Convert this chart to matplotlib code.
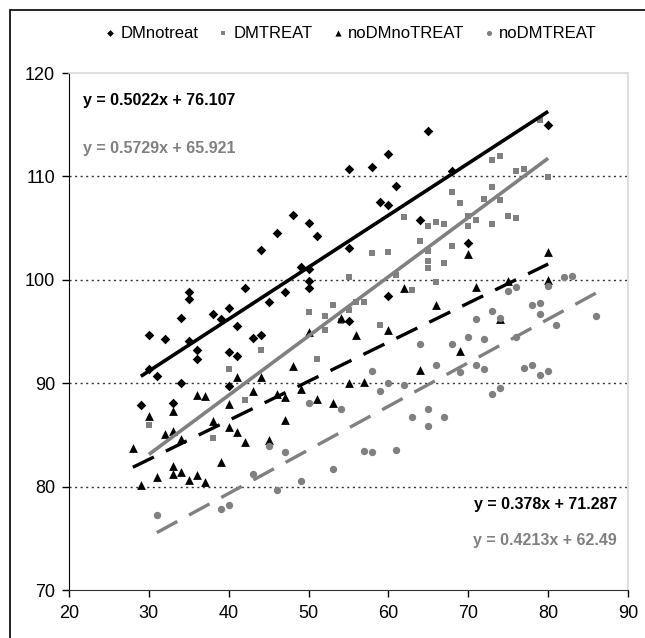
import matplotlib
matplotlib.use("Agg")
import matplotlib.pyplot as plt
import numpy as np
from matplotlib.patches import Rectangle

plt.rcParams['font.family'] = ['Liberation Sans', 'DejaVu Sans']

# ---- data ----
dmnotreat_x = [29, 30, 30, 31, 32, 33, 34, 34, 35, 35, 35, 36, 36, 38, 39, 40, 40, 40, 41, 41,
               42, 43, 44, 44, 45, 46, 47, 48, 49, 50, 50, 50, 50, 51, 55, 55, 55, 58, 59, 60,
               60, 60, 61, 64, 65, 68, 70, 80]
dmnotreat_y = [87.9, 94.7, 91.4, 90.7, 94.3, 88.1, 96.3, 90.0, 98.8, 98.1, 94.1, 93.2, 92.3, 96.7,
               96.2, 97.3, 93.0, 89.7, 95.5, 92.6, 99.2, 94.4, 94.7, 102.9, 97.9, 104.5, 98.8, 106.3,
               101.2, 105.5, 101.0, 99.9, 99.2, 104.2, 110.7, 103.1, 96.0, 110.9, 107.5, 112.2,
               107.2, 98.4, 109.1, 105.8, 114.4, 110.5, 103.6, 115.0]

dmtreat_x = [30, 38, 40, 42, 44, 50, 51, 52, 52, 53, 54, 55, 55, 56, 57, 58, 59, 60, 61, 62,
             63, 64, 65, 65, 65, 65, 66, 66, 67, 67, 68, 68, 69, 70, 70, 71, 72, 73, 73, 73,
             74, 74, 75, 76, 76, 77, 79, 80]
dmtreat_y = [86.0, 84.7, 91.4, 88.4, 93.2, 96.9, 92.3, 96.5, 95.1, 97.6, 96.0, 100.3, 97.1, 97.9,
             97.9, 102.6, 95.6, 102.7, 100.5, 106.1, 99.0, 103.8, 105.2, 102.8, 101.8, 101.1,
             105.6, 99.8, 105.4, 101.6, 108.5, 103.3, 107.4, 106.2, 105.2, 105.8, 107.8, 111.6,
             109.0, 105.4, 112.0, 107.7, 106.2, 110.5, 106.0, 110.7, 115.5, 109.9]

nodmnotreat_x = [28, 29, 30, 31, 32, 33, 33, 33, 33, 34, 34, 35, 36, 36, 37, 37, 38, 39, 40, 40,
                 41, 41, 42, 43, 44, 45, 46, 47, 47, 48, 49, 50, 51, 53, 54, 55, 56, 57, 60, 62,
                 64, 66, 69, 70, 71, 74, 75, 80, 80]
nodmnotreat_y = [83.7, 80.2, 86.8, 80.9, 85.1, 87.3, 85.4, 82.0, 81.2, 84.6, 81.4, 80.6, 88.9,
                 81.1, 88.8, 80.4, 86.3, 82.4, 88.0, 85.8, 90.6, 85.3, 84.3, 89.2, 90.6, 84.5,
                 89.0, 88.7, 86.4, 91.7, 89.4, 95.0, 88.5, 88.1, 96.3, 90.0, 94.7, 90.1, 95.1,
                 99.2, 91.3, 97.6, 93.1, 102.5, 99.3, 96.2, 99.9, 102.7, 100.0]

nodmtreat_x = [31, 39, 40, 43, 45, 46, 47, 49, 50, 53, 54, 57, 58, 58, 59, 60, 61, 62, 63, 64,
               65, 65, 66, 67, 68, 69, 70, 71, 71, 72, 72, 73, 73, 74, 74, 75, 76, 76, 77, 78,
               78, 79, 79, 79, 80, 80, 81, 82, 83, 86]
nodmtreat_y = [77.3, 77.8, 78.2, 81.2, 83.9, 79.7, 83.3, 80.5, 88.1, 81.7, 87.5, 83.4, 83.3, 91.2,
               89.2, 90.0, 83.5, 89.8, 86.7, 93.8, 87.5, 85.9, 91.8, 86.7, 93.8, 91.1, 94.5, 96.2,
               91.8, 94.3, 91.4, 97.0, 89.0, 96.3, 89.5, 98.9, 99.3, 94.5, 91.5, 97.6, 91.8, 97.8,
               96.7, 90.8, 99.4, 91.2, 95.6, 100.3, 100.4, 96.5]

# trend lines: (slope, intercept, x_start, x_end)
trend_dmnotreat = (0.5022, 76.107, 29, 80)
trend_dmtreat = (0.5729, 65.921, 30, 80)
trend_nodmnotreat = (0.378, 71.287, 28, 80)
trend_nodmtreat = (0.4213, 62.49, 31, 86)

eq_labels = ["y = 0.5022x + 76.107", "y = 0.5729x + 65.921",
             "y = 0.378x + 71.287", "y = 0.4213x + 62.49"]
series_names = ["DMnotreat", "DMTREAT", "noDMnoTREAT", "noDMTREAT"]

GREY = "#808080"

fig = plt.figure(figsize=(6.45, 6.38), dpi=100)
ax = fig.add_axes([69/645, 1-590/638, (628-69)/645, (590-73)/638])

ax.scatter(dmnotreat_x, dmnotreat_y, marker='D', s=24, color='black', label=series_names[0], zorder=3, linewidths=0)
ax.scatter(dmtreat_x, dmtreat_y, marker='s', s=24, color=GREY, label=series_names[1], zorder=3, linewidths=0)
ax.scatter(nodmnotreat_x, nodmnotreat_y, marker='^', s=40, color='black', label=series_names[2], zorder=3, linewidths=0)
ax.scatter(nodmtreat_x, nodmtreat_y, marker='o', s=28, color=GREY, label=series_names[3], zorder=3, linewidths=0)

def trend(t, **kw):
    m, b, x0, x1 = t
    xs = np.array([x0, x1])
    ax.plot(xs, m*xs + b, zorder=4, solid_capstyle='butt', **kw)

trend(trend_dmnotreat, color='black', lw=2.6)
trend(trend_dmtreat, color=GREY, lw=2.6)
trend(trend_nodmnotreat, color='black', lw=2.4, dashes=(7, 4))
trend(trend_nodmtreat, color=GREY, lw=2.4, dashes=(7, 4))

ax.set_xlim(20, 90)
ax.set_ylim(70, 120)
ax.set_xticks(range(20, 91, 10))
ax.set_yticks(range(70, 121, 10))
for yv in [80, 90, 100, 110]:
    ax.axhline(yv, color='#333333', lw=1.0, ls=(0, (1.5, 2.5)), zorder=1)

ax.spines['top'].set_color('#d9d9d9')
ax.spines['right'].set_color('#d9d9d9')
ax.spines['top'].set_linewidth(1.2)
ax.spines['right'].set_linewidth(1.2)
ax.spines['left'].set_color('black')
ax.spines['bottom'].set_color('#333333')
ax.tick_params(axis='both', direction='out', length=5, width=1, labelsize=13, colors='black')
ax.tick_params(axis='x', pad=6)
ax.tick_params(axis='y', pad=5)

fig.text(83/645, 1-100/638, eq_labels[0], fontsize=11.5, fontweight='bold', color='black', va='center', ha='left')
fig.text(83/645, 1-148/638, eq_labels[1], fontsize=11.5, fontweight='bold', color=GREY, va='center', ha='left')
fig.text(617/645, 1-505/638, eq_labels[2], fontsize=11.5, fontweight='bold', color='black', va='center', ha='right')
fig.text(617/645, 1-541/638, eq_labels[3], fontsize=11.5, fontweight='bold', color=GREY, va='center', ha='right')

leg = fig.legend(loc='center', bbox_to_anchor=(0.543, 1-33/638), ncol=4, frameon=False,
                 fontsize=12, handletextpad=0.2, columnspacing=1.1, handlelength=0.8,
                 markerscale=0.7, borderaxespad=0)

fig.patches.append(Rectangle((10/645, -0.5), 2.0, 1-10/638+0.5, transform=fig.transFigure,
                             fill=False, edgecolor='black', lw=1.2))

fig.savefig("out.png", dpi=100)
